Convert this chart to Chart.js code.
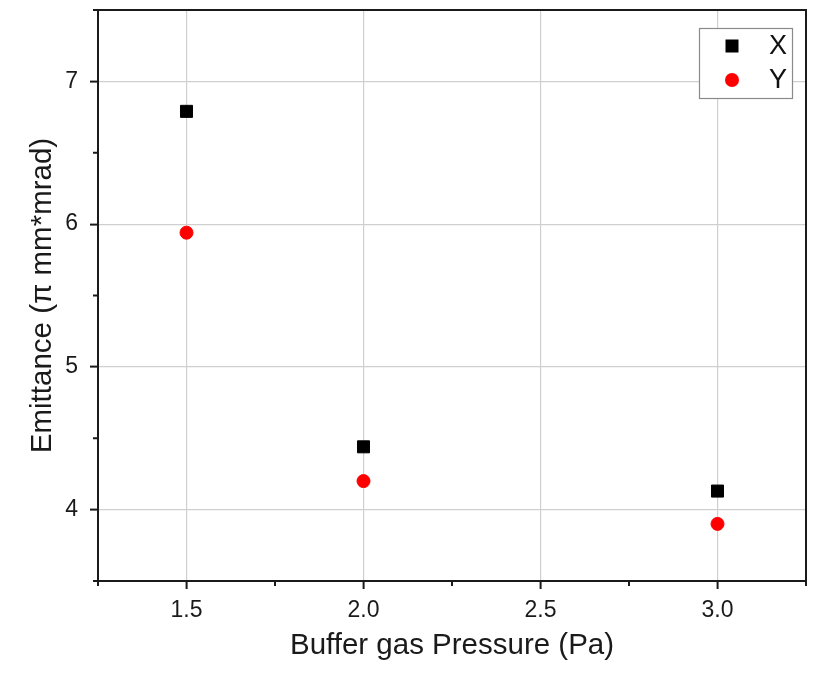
<!DOCTYPE html>
<html>
<head>
<meta charset="utf-8">
<script src="https://cdn.jsdelivr.net/npm/chart.js@4"></script>
<style>
  html, body { margin: 0; padding: 0; background: #fff; }
  #wrap { width: 817px; height: 673px; }
</style>
</head>
<body>
<div id="wrap"><canvas id="c" width="817" height="673"></canvas></div>
<script>
// Buffer gas pressure (Pa)
const pressure = [1.5, 2.0, 3.0];
// Emittance (pi mm*mrad) in X and Y
const emittanceX = [6.79, 4.44, 4.13];
const emittanceY = [5.94, 4.20, 3.90];
// Axis ranges and labelled ticks
const xRange = [1.25, 3.25];
const yRange = [3.5, 7.5];
const xMajor = [1.5, 2.0, 2.5, 3.0];
const yMajor = [4, 5, 6, 7];
const seriesNames = ['X', 'Y'];

const FONT = '"Liberation Sans", Arial, Helvetica, sans-serif';
const AXIS = '#1a1a1a';
const GRID = '#cfcfcf';

const isMajor = (list, v) => list.some(m => Math.abs(m - v) < 1e-6);

// Minor ticks, top/right frame and the in-plot legend
const framePlugin = {
  id: 'frame',
  afterDraw(chart) {
    const ctx = chart.ctx;
    const a = chart.chartArea;
    const xs = chart.scales.x, ys = chart.scales.y;
    ctx.save();
    ctx.strokeStyle = AXIS;
    ctx.lineWidth = 2;
    // top and right border
    ctx.beginPath();
    ctx.moveTo(a.left, a.top);
    ctx.lineTo(a.right, a.top);
    ctx.lineTo(a.right, a.bottom);
    ctx.stroke();
    // minor ticks
    ctx.beginPath();
    xs.ticks.forEach(t => {
      if (!isMajor(xMajor, t.value)) {
        const px = xs.getPixelForValue(t.value);
        ctx.moveTo(px, a.bottom);
        ctx.lineTo(px, a.bottom + 5);
      }
    });
    ys.ticks.forEach(t => {
      if (!isMajor(yMajor, t.value)) {
        const py = ys.getPixelForValue(t.value);
        ctx.moveTo(a.left, py);
        ctx.lineTo(a.left - 5, py);
      }
    });
    ctx.stroke();

    // legend box
    const bx = 699, by = 28, bw = 93, bh = 70;
    ctx.fillStyle = '#fff';
    ctx.fillRect(bx, by, bw, bh);
    ctx.strokeStyle = '#8a8a8a';
    ctx.lineWidth = 1.2;
    ctx.strokeRect(bx + 0.5, by + 0.5, bw, bh);

    const ds = chart.data.datasets;
    // square marker
    ctx.fillStyle = ds[0].backgroundColor;
    ctx.fillRect(732 - 6.5, 46 - 6.5, 13, 13);
    // circle marker
    ctx.fillStyle = ds[1].backgroundColor;
    ctx.beginPath();
    ctx.arc(732, 80, 7, 0, Math.PI * 2);
    ctx.fill();

    ctx.fillStyle = '#111';
    ctx.font = '27px ' + FONT;
    ctx.textAlign = 'center';
    ctx.textBaseline = 'middle';
    ctx.fillText(ds[0].label, 778, 47);
    ctx.fillText(ds[1].label, 778, 81);
    ctx.restore();
  }
};

new Chart(document.getElementById('c'), {
  type: 'scatter',
  data: {
    datasets: [
      {
        label: seriesNames[0],
        data: pressure.map((p, i) => ({ x: p, y: emittanceX[i] })),
        pointStyle: 'rect',
        pointRadius: 8.5,
        borderWidth: 1,
        backgroundColor: '#000000',
        borderColor: '#000000'
      },
      {
        label: seriesNames[1],
        data: pressure.map((p, i) => ({ x: p, y: emittanceY[i] })),
        pointStyle: 'circle',
        pointRadius: 6.5,
        borderWidth: 1,
        backgroundColor: '#ff0000',
        borderColor: '#ff0000'
      }
    ]
  },
  options: {
    responsive: false,
    animation: false,
    devicePixelRatio: 1,
    layout: { padding: { top: 10, right: 11, bottom: 0, left: 0 } },
    plugins: {
      legend: { display: false },
      tooltip: { enabled: false }
    },
    scales: {
      x: {
        type: 'linear',
        min: xRange[0],
        max: xRange[1],
        afterFit(scale) {
          scale.height = 92;
          scale.paddingLeft = 0;
          scale.paddingRight = 0;
        },
        border: { display: true, color: AXIS, width: 2 },
        grid: {
          color: c => isMajor(xMajor, c.tick.value) ? GRID : 'rgba(0,0,0,0)',
          lineWidth: 1.2,
          drawTicks: true,
          tickLength: 8,
          tickWidth: 2,
          tickColor: c => isMajor(xMajor, c.tick.value) ? AXIS : 'rgba(0,0,0,0)'
        },
        ticks: {
          stepSize: 0.25,
          autoSkip: false,
          maxRotation: 0,
          padding: 8,
          color: '#1a1a1a',
          font: { family: FONT, size: 23 },
          callback: v => isMajor(xMajor, v) ? v.toFixed(1) : ''
        },
        title: {
          display: true,
          text: 'Buffer gas Pressure (Pa)',
          color: '#1a1a1a',
          font: { family: FONT, size: 29.5 },
          padding: { top: 0, bottom: 9 }
        }
      },
      y: {
        type: 'linear',
        min: yRange[0],
        max: yRange[1],
        afterFit(scale) {
          scale.width = 98;
          scale.paddingTop = 0;
          scale.paddingBottom = 0;
        },
        border: { display: true, color: AXIS, width: 2 },
        grid: {
          color: c => isMajor(yMajor, c.tick.value) ? GRID : 'rgba(0,0,0,0)',
          lineWidth: 1.2,
          drawTicks: true,
          tickLength: 8,
          tickWidth: 2,
          tickColor: c => isMajor(yMajor, c.tick.value) ? AXIS : 'rgba(0,0,0,0)'
        },
        ticks: {
          stepSize: 0.5,
          autoSkip: false,
          padding: 12,
          color: '#1a1a1a',
          font: { family: FONT, size: 23 },
          callback: v => isMajor(yMajor, v) ? String(v) : ''
        },
        title: {
          display: true,
          text: 'Emittance (π mm*mrad)',
          color: '#1a1a1a',
          font: { family: FONT, size: 29.5 },
          padding: { top: 25, bottom: 0 }
        }
      }
    }
  },
  plugins: [framePlugin]
});
</script>
</body>
</html>
